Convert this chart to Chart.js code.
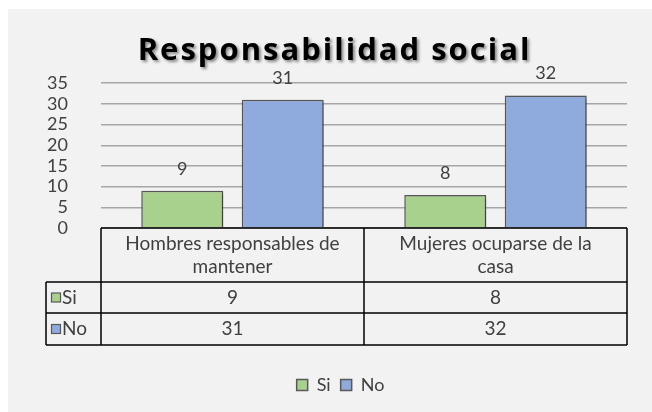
<!DOCTYPE html>
<html><head><meta charset="utf-8">
<script src="https://cdn.jsdelivr.net/npm/chart.js@4.4.0/dist/chart.umd.min.js"></script>
<style>
html,body{margin:0;padding:0;background:#fff;width:652px;height:412px;overflow:hidden}
#wrap{position:absolute;left:8px;top:9px;width:644px;height:403px;background:#f2f2f2}
</style></head><body>
<div id="wrap"><canvas id="c" width="644" height="403"></canvas></div>
<script>
const titleText = "Responsabilidad social";
const categories = [["Hombres responsables de", "mantener"], ["Mujeres ocuparse de la", "casa"]];
const seriesNames = ["Si", "No"];
const siValues = [9, 8];
const noValues = [31, 32];
const yMin = 0, yMax = 35, yStep = 5;
const siColor = "#a9d18e";
const noColor = "#8faadc";

const FONT = "Lato, 'Liberation Sans', sans-serif";
const TEXT = "#404040";
const FS = 18;
const TFS = 19;

const shadowPlugin = {
  id: "barShadow",
  beforeDatasetsDraw(chart) {
    const ctx = chart.ctx;
    ctx.save();
    ctx.shadowColor = "rgba(0,0,0,0.35)";
    ctx.shadowBlur = 4;
    ctx.shadowOffsetX = 2;
    ctx.shadowOffsetY = 2;
  },
  afterDatasetsDraw(chart) {
    chart.ctx.restore();
    const ctx = chart.ctx;
    ctx.save();
    ctx.font = FS + "px " + FONT;
    ctx.fillStyle = TEXT;
    ctx.textAlign = "center";
    ctx.textBaseline = "middle";
    chart.data.datasets.forEach((ds, i) => {
      chart.getDatasetMeta(i).data.forEach((bar, j) => {
        ctx.fillText(String(ds.data[j]), bar.x, bar.y - 22);
      });
    });
    ctx.restore();
  }
};

const boxStyle = {
  id: "boxStyle",
  beforeDraw(chart) {
    const tb = chart.titleBlock;
    if (tb && !tb._styled) {
      const orig = tb.draw.bind(tb);
      tb.draw = function (area) {
        const ctx = chart.ctx;
        ctx.save();
        ctx.translate(17, 0);
        ctx.letterSpacing = "2px";
        ctx.shadowColor = "rgba(0,0,0,0.45)";
        ctx.shadowBlur = 3;
        ctx.shadowOffsetX = 2;
        ctx.shadowOffsetY = 2;
        orig(area);
        ctx.restore();
      };
      tb._styled = true;
    }
    const lg = chart.legend;
    if (lg && !lg._styled) {
      const origL = lg.draw.bind(lg);
      lg.draw = function (area) {
        const ctx = chart.ctx;
        ctx.save();
        ctx.translate(23, 0);
        origL(area);
        ctx.restore();
      };
      lg._styled = true;
    }
  }
};

const tablePlugin = {
  id: "dataTable",
  afterDraw(chart) {
    const ctx = chart.ctx;
    const left = chart.chartArea.left, right = chart.chartArea.right;
    const top = chart.chartArea.bottom;
    const catW = (right - left) / categories.length;
    const headH = 54, rowH = [31, 32];
    const labelLeft = 38;
    const r1 = top + headH, r2 = r1 + rowH[0], r3 = r2 + rowH[1];
    ctx.save();
    ctx.strokeStyle = "#000";
    ctx.lineWidth = 1.5;
    ctx.beginPath();
    ctx.moveTo(left, top); ctx.lineTo(right, top);
    ctx.moveTo(labelLeft, r1); ctx.lineTo(right, r1);
    ctx.moveTo(labelLeft, r2); ctx.lineTo(right, r2);
    ctx.moveTo(labelLeft, r3); ctx.lineTo(right, r3);
    ctx.moveTo(labelLeft, r1); ctx.lineTo(labelLeft, r3);
    for (let i = 0; i <= categories.length; i++) {
      const x = left + catW * i;
      ctx.moveTo(x, top); ctx.lineTo(x, r3);
    }
    ctx.stroke();
    ctx.font = TFS + "px " + FONT;
    ctx.fillStyle = TEXT;
    ctx.textAlign = "center";
    ctx.textBaseline = "middle";
    categories.forEach((lines, i) => {
      const cx = left + catW * (i + 0.5);
      lines.forEach((ln, k) => ctx.fillText(ln, cx, top + 16 + k * 23));
    });
    const series = [[siValues, siColor, r1, rowH[0]], [noValues, noColor, r2, rowH[1]]];
    series.forEach(([vals, col, ry, rh], s) => {
      const cy = ry + rh / 2;
      vals.forEach((v, i) => ctx.fillText(String(v), left + catW * (i + 0.5), cy));
      ctx.fillStyle = col;
      ctx.fillRect(43.5, cy - 4.5, 9, 9);
      ctx.strokeStyle = "#595959";
      ctx.lineWidth = 1.2;
      ctx.strokeRect(43.5, cy - 4.5, 9, 9);
      ctx.fillStyle = TEXT;
      ctx.textAlign = "left";
      ctx.fillText(seriesNames[s], 54, cy);
      ctx.textAlign = "center";
    });
    ctx.restore();
  }
};

new Chart(document.getElementById("c"), {
  type: "bar",
  data: {
    labels: categories,
    datasets: [
      { label: seriesNames[0], data: siValues, backgroundColor: siColor, borderColor: "#595959", borderWidth: 1.5,
        categoryPercentage: 0.764, barPercentage: 0.816 },
      { label: seriesNames[1], data: noValues, backgroundColor: noColor, borderColor: "#595959", borderWidth: 1.5,
        categoryPercentage: 0.764, barPercentage: 0.816 }
    ]
  },
  options: {
    responsive: false,
    animation: false,
    devicePixelRatio: 1,
    layout: { padding: { left: 0, right: 25, top: 0, bottom: 8 } },
    plugins: {
      title: { display: true, text: titleText, color: "#000",
        font: { family: "'Open Sans', sans-serif", size: 31, weight: "bold" },
        padding: { top: 24, bottom: 13 } },
      legend: { position: "bottom",
        labels: { font: { family: FONT, size: FS }, color: TEXT, boxWidth: 11, boxHeight: 11, padding: 10 } },
      tooltip: { enabled: false }
    },
    scales: {
      x: {
        grid: { display: false }, border: { display: false },
        ticks: { display: false },
        afterFit(s) { s.height = 138; }
      },
      y: {
        min: yMin, max: yMax,
        ticks: { stepSize: yStep, autoSkip: false, color: TEXT, font: { family: FONT, size: FS }, padding: 33 },
        grid: { color: "#a6a6a6", lineWidth: 1.5, drawTicks: false },
        border: { display: false },
        afterFit(s) { s.width = 93; }
      }
    }
  },
  plugins: [boxStyle, shadowPlugin, tablePlugin]
});
</script>
</body></html>
